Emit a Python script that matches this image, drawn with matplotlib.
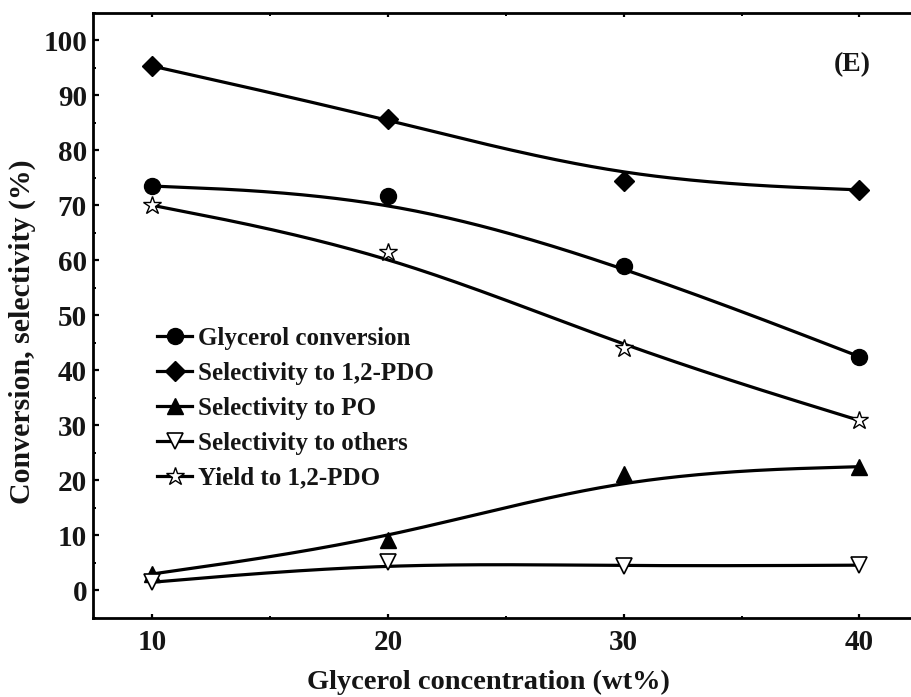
import numpy as np
import matplotlib
matplotlib.use("Agg")
import matplotlib.pyplot as plt
from matplotlib.lines import Line2D
from matplotlib.font_manager import FontProperties
from matplotlib.ticker import MultipleLocator

# ---- data ----
concentration = [10, 20, 30, 40]
glycerol_conversion = [73.5, 71.7, 59.0, 42.5]
selectivity_pdo = [95.3, 85.7, 74.5, 72.8]
selectivity_po = [3.0, 9.1, 21.2, 22.5]
selectivity_others = [1.5, 5.1, 4.4, 4.6]
yield_pdo = [70.0, 61.6, 44.1, 30.9]

series_labels = ["Glycerol conversion", "Selectivity to 1,2-PDO",
                 "Selectivity to PO", "Selectivity to others", "Yield to 1,2-PDO"]
x_ticks = [10, 20, 30, 40]
y_ticks = list(range(0, 101, 10))


def bspline_curve(x, y, n=60):
    """Clamped uniform cubic B-spline using the data points as control points
    (the 'B-spline' connecting line of plotting packages)."""
    P = np.column_stack([np.asarray(x, float), np.asarray(y, float)])
    Q = np.vstack([P[0], P[0], P, P[-1], P[-1]])
    t = np.linspace(0, 1, n)[:, None]
    b0 = (1 - t) ** 3 / 6
    b1 = (3 * t**3 - 6 * t**2 + 4) / 6
    b2 = (-3 * t**3 + 3 * t**2 + 3 * t + 1) / 6
    b3 = t**3 / 6
    segs = [b0 * Q[i] + b1 * Q[i + 1] + b2 * Q[i + 2] + b3 * Q[i + 3]
            for i in range(len(Q) - 3)]
    pts = np.vstack(segs)
    return pts[:, 0], pts[:, 1]


W, H = 912, 697
fig = plt.figure(figsize=(W / 100, H / 100), dpi=100)
fig.patch.set_facecolor("white")

left_px, right_px, top_px, bottom_px = 93.3, 918.3, 12.7, 618.0
ax = fig.add_axes([left_px / W, (H - bottom_px) / H,
                   (right_px - left_px) / W, (bottom_px - top_px) / H])

FONT = "Liberation Serif"
TXT = "#151515"
lw = 2.3

styles = [
    dict(marker="o", ms=11.5, mfc="black", mec="black", mew=1.0),
    dict(marker="D", ms=10, mfc="black", mec="black", mew=1.0),
    dict(marker="^", ms=11, mfc="black", mec="black", mew=1.0),
    dict(marker="v", ms=11, mfc="white", mec="black", mew=1.2),
    dict(marker="*", ms=13.5, mfc="white", mec="black", mew=1.0),
]
all_series = [glycerol_conversion, selectivity_pdo, selectivity_po,
              selectivity_others, yield_pdo]

for ys, st in zip(all_series, styles):
    cx, cy = bspline_curve(concentration, ys)
    ax.plot(cx, cy, color="black", lw=lw, zorder=2)
    ax.plot(concentration, ys, ls="none", zorder=3, **st)

ax.set_xlim(7.5, 42.5)
ax.set_ylim(-5, 105)
ax.set_xticks(x_ticks)
ax.set_yticks(y_ticks)
ax.xaxis.set_minor_locator(MultipleLocator(5))
ax.yaxis.set_minor_locator(MultipleLocator(5))

for s in ax.spines.values():
    s.set_linewidth(2.0)
ax.spines["right"].set_visible(False)

ax.tick_params(axis="y", which="major", direction="in", length=4.5, width=1.6,
               left=True, right=False, pad=4.5)
ax.tick_params(axis="y", which="minor", direction="in", length=2.5, width=1.4,
               left=True, right=False)
ax.tick_params(axis="x", which="major", direction="in", length=3.2, width=1.6,
               bottom=True, top=True, pad=8)
ax.tick_params(axis="x", which="minor", direction="in", length=1.8, width=1.4,
               bottom=True, top=True)

tick_font = FontProperties(family=FONT, weight="bold", size=21)
for lab in ax.get_xticklabels() + ax.get_yticklabels():
    lab.set_fontproperties(tick_font)
    lab.set_color(TXT)

# axis titles
fig.text(488 / W, (H - 689) / H, "Glycerol concentration (wt%)",
         ha="center", va="baseline", family=FONT, weight="bold",
         fontsize=20.5, color=TXT)
fig.text(22 / W, 1 - 332 / H, "Conversion, selectivity (%)",
         ha="center", va="center", rotation=90, family=FONT, weight="bold",
         fontsize=21.5, color=TXT)
fig.text(852 / W, 1 - 65 / H, "(E)", ha="center", va="center",
         family=FONT, weight="bold", fontsize=20, color=TXT)

# legend
handles = [Line2D([0], [0], color="black", lw=lw, **st) for st in styles]
ax.legend(handles, series_labels, loc="upper left",
          bbox_to_anchor=(157 / W, 1 - 326.5 / H), bbox_transform=fig.transFigure,
          frameon=False, borderpad=0, borderaxespad=0, handlelength=1.4,
          handletextpad=0.25, labelspacing=0.48, numpoints=1,
          prop=FontProperties(family=FONT, weight="bold", size=18),
          labelcolor=TXT)

fig.savefig("out.png", dpi=100)
